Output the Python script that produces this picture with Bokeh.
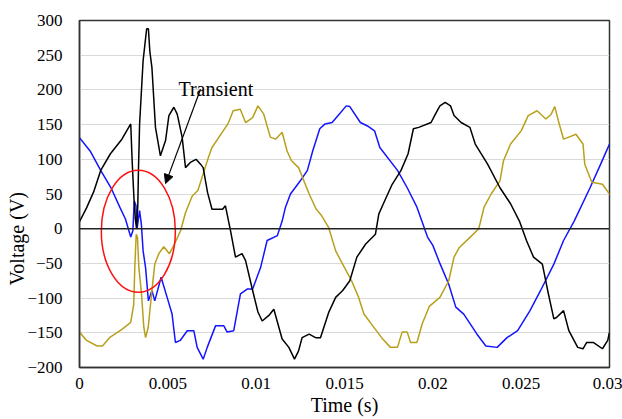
from bokeh.plotting import figure
from bokeh.models import (Range1d, FixedTicker, CustomJSTickFormatter, Span, Label,
                          Arrow, NormalHead, Title)
from bokeh.embed import file_html
from bokeh.resources import INLINE

# ---- data ----
blue_t = [0, 0.0006, 0.0012, 0.0018, 0.0023, 0.0026, 0.0029, 0.00302, 0.0031, 0.0032,
          0.00326, 0.0034, 0.0035, 0.0036, 0.00374, 0.0039, 0.0041, 0.00426, 0.00462,
          0.00496, 0.00524, 0.00543, 0.0057, 0.0061, 0.00647, 0.00666, 0.0070, 0.00723,
          0.0077, 0.00817, 0.00836, 0.00873, 0.00911, 0.00949, 0.0098, 0.01025, 0.01062,
          0.0112, 0.01147, 0.01166, 0.01194, 0.0125, 0.0129, 0.0132, 0.0136, 0.0139,
          0.0143, 0.0147, 0.0151, 0.0153, 0.0159, 0.0163, 0.0167, 0.0170, 0.0180,
          0.01855, 0.0191, 0.0197, 0.0200, 0.0204, 0.0209, 0.0213, 0.02175, 0.0225,
          0.0230, 0.02364, 0.0242, 0.0248, 0.0255, 0.0261, 0.02685, 0.0274, 0.0280,
          0.0289, 0.0295, 0.0300]
blue_v = [131, 112, 84, 58, 30, 14, -12, -3, 40, 33,
          0, 26, 7, -32, -56, -104, -89, -104, -70,
          -99, -123, -164, -161, -147, -147, -171, -188, -171,
          -140, -140, -149, -147, -94, -87, -87, -56, -17,
          -10, 11, 31, 50, 69, 84, 112, 144, 151,
          153, 165, 177, 176, 153, 148, 141, 117, 84,
          59, 31, -12, -24, -50, -80, -113, -123, -152,
          -169, -171, -157, -147, -118, -89, -51, -17, 11,
          59, 93, 122]

black_t = [0, 0.0004, 0.0008, 0.0012, 0.00175, 0.0024, 0.0029, 0.00298, 0.00308,
           0.00316, 0.00323, 0.0033, 0.00334, 0.00338, 0.0034, 0.0036, 0.0038, 0.0039,
           0.00398, 0.0041, 0.0043, 0.00458, 0.00487, 0.00506, 0.00534, 0.00553,
           0.00581, 0.0060, 0.0063, 0.0066, 0.00685, 0.0070, 0.00725, 0.0075, 0.0081,
           0.00826, 0.00855, 0.00883, 0.0092, 0.0094, 0.0098, 0.0101, 0.01034, 0.01072,
           0.0110, 0.01147, 0.01185, 0.01217, 0.0124, 0.0126, 0.0130, 0.01336, 0.01364,
           0.0141, 0.0145, 0.0149, 0.0153, 0.0157, 0.0162, 0.01675, 0.01694, 0.0172,
           0.0177, 0.0182, 0.0186, 0.0189, 0.0192, 0.0199, 0.0201, 0.0204, 0.0207,
           0.0210, 0.0212, 0.0216, 0.0221, 0.0224, 0.0231, 0.0238, 0.0244, 0.0249,
           0.0253, 0.0257, 0.0262, 0.0265, 0.02685, 0.0270, 0.0274, 0.0277, 0.0282,
           0.0285, 0.0287, 0.0291, 0.0296, 0.0299, 0.0300]
black_v = [10, 30, 53, 84, 108, 129, 151, 98, 45,
           14, 0, 33, 88, 127, 150, 242, 288, 288,
           256, 232, 146, 105, 127, 163, 175, 165,
           132, 88, 96, 100, 93, 88, 52, 28, 28,
           33, -3, -41, -36, -46, -89, -120, -133, -125,
           -116, -159, -171, -188, -176, -157, -152, -157, -157,
           -121, -99, -89, -75, -41, -22, -8, 21, 36,
           64, 84, 108, 144, 146, 153, 163, 177, 182,
           177, 163, 153, 146, 122, 93, 59, 36, 11,
           -17, -41, -51, -89, -130, -128, -118, -147, -171,
           -173, -164, -164, -173, -161, -149]

olive_t = [0, 0.0004, 0.0010, 0.0013, 0.0017, 0.0024, 0.0029, 0.00307, 0.00313, 0.00321,
           0.00328, 0.00336, 0.00351, 0.00364, 0.00374, 0.00389, 0.00408, 0.00426,
           0.00449, 0.00477, 0.00509, 0.00534, 0.00572, 0.0060, 0.00638, 0.0067, 0.0070,
           0.0073, 0.0075, 0.0080, 0.0084, 0.0087, 0.0091, 0.0094, 0.0098, 0.0101,
           0.01043, 0.0108, 0.0111, 0.01147, 0.01175, 0.0120, 0.0124, 0.0127, 0.0130,
           0.0134, 0.0137, 0.0141, 0.0145, 0.0150, 0.0154, 0.0158, 0.0161, 0.0166,
           0.0171, 0.0176, 0.0180, 0.01826, 0.01855, 0.01874, 0.0191, 0.0194, 0.0198,
           0.0204, 0.0209, 0.0212, 0.0215, 0.0220, 0.0226, 0.0229, 0.0233, 0.0238,
           0.0240, 0.0244, 0.0250, 0.0254, 0.0259, 0.0264, 0.0267, 0.0269, 0.0271,
           0.0274, 0.0277, 0.0281, 0.0285, 0.0286, 0.0290, 0.0296, 0.0300]
olive_v = [-149, -161, -169, -169, -157, -145, -135, -109, -56, -8,
           -12, -56, -94, -142, -157, -142, -94, -51,
           -36, -26, -36, -24, -3, 23, 47, 55, 79,
           103, 117, 136, 151, 170, 172, 153, 160, 177,
           165, 132, 129, 139, 112, 98, 88, 69, 50,
           28, 19, 2, -32, -56, -75, -99, -123, -140,
           -157, -171, -171, -149, -149, -164, -164, -137, -112,
           -99, -75, -41, -27, -15, 0, 31, 50, 69,
           98, 122, 141, 163, 170, 158, 165, 176, 156,
           129, 132, 136, 122, 93, 67, 64, 50]

x_ticks = [0, 0.005, 0.01, 0.015, 0.02, 0.025, 0.03]
x_tick_labels = ["0", "0.005", "0.01", "0.015", "0.02", "0.025", "0.03"]
y_ticks = [-200, -150, -100, -50, 0, 50, 100, 150, 200, 250, 300]

# annotation values
ellipse_center = (0.00333, -3.6)
ellipse_size = (0.00419, 176)
arrow_from = (0.00685, 201)
arrow_to = (0.00487, 65)
transient_pos = (0.0056, 202)

SERIF = "Liberation Serif"

p = figure(width=622, height=419, output_backend="svg", toolbar_location=None,
           x_range=Range1d(0, 0.03), y_range=Range1d(-200, 300))
p.min_border_left = 79
p.min_border_right = 13
p.min_border_top = 20
p.min_border_bottom = 52
p.background_fill_color = "white"
p.border_fill_color = "white"
p.outline_line_color = "#333333"
p.outline_line_width = 1.5

p.xgrid.visible = False
p.ygrid.ticker = FixedTicker(ticks=y_ticks)
p.ygrid.grid_line_color = "#d9d9d9"
p.ygrid.grid_line_width = 1

p.xaxis.ticker = FixedTicker(ticks=x_ticks)
p.xaxis.formatter = CustomJSTickFormatter(
    args=dict(xt=x_ticks, xl=x_tick_labels),
    code="""
    for (let i = 0; i < xt.length; i++) {
        if (Math.abs(xt[i] - tick) < 1e-9) { return xl[i]; }
    }
    return tick.toString();
    """)
p.yaxis.ticker = FixedTicker(ticks=y_ticks)

for ax in (p.xaxis[0], p.yaxis[0]):
    ax.major_tick_line_color = None
    ax.minor_tick_line_color = None
    ax.axis_line_color = "#333333"
    ax.axis_line_width = 1.5
    ax.major_label_text_font = SERIF
    ax.major_label_text_font_size = "17px"
    ax.major_label_text_color = "black"

p.xaxis.major_label_standoff = 4
p.yaxis.major_label_standoff = 11
p.xaxis.axis_label = "Time (s)"
p.xaxis.axis_label_text_font = SERIF
p.xaxis.axis_label_text_font_size = "20px"
p.xaxis.axis_label_text_font_style = "normal"
p.xaxis.axis_label_text_color = "black"
p.xaxis.axis_label_standoff = 2

# y-axis label as a side title (allows shifting it below the frame centre)
p.add_layout(Title(text="Voltage (V)", align="left", offset=82, standoff=-6,
                   text_font=SERIF, text_font_size="20px", text_font_style="normal",
                   text_color="black"), "left")

p.add_layout(Span(location=0, dimension="width", line_color="#222222", line_width=1.5))

p.line(blue_t, blue_v, line_color="#1414ff", line_width=1.5)
p.line(olive_t, olive_v, line_color="#b8a01c", line_width=1.5)
p.line(black_t, black_v, line_color="black", line_width=1.5)

p.ellipse(x=[ellipse_center[0]], y=[ellipse_center[1]], width=[ellipse_size[0]],
          height=[ellipse_size[1]], fill_color=None, line_color="#ff1010", line_width=1.5)

p.add_layout(Arrow(end=NormalHead(size=9, fill_color="black", line_color="black"),
                   x_start=arrow_from[0], y_start=arrow_from[1],
                   x_end=arrow_to[0], y_end=arrow_to[1],
                   line_color="black", line_width=1.2))

p.add_layout(Label(x=transient_pos[0], y=transient_pos[1], text="Transient",
                   text_font=SERIF, text_font_size="20px", text_color="black",
                   text_baseline="alphabetic", text_align="left"))

open("out.html", "w").write(file_html(p, INLINE))
